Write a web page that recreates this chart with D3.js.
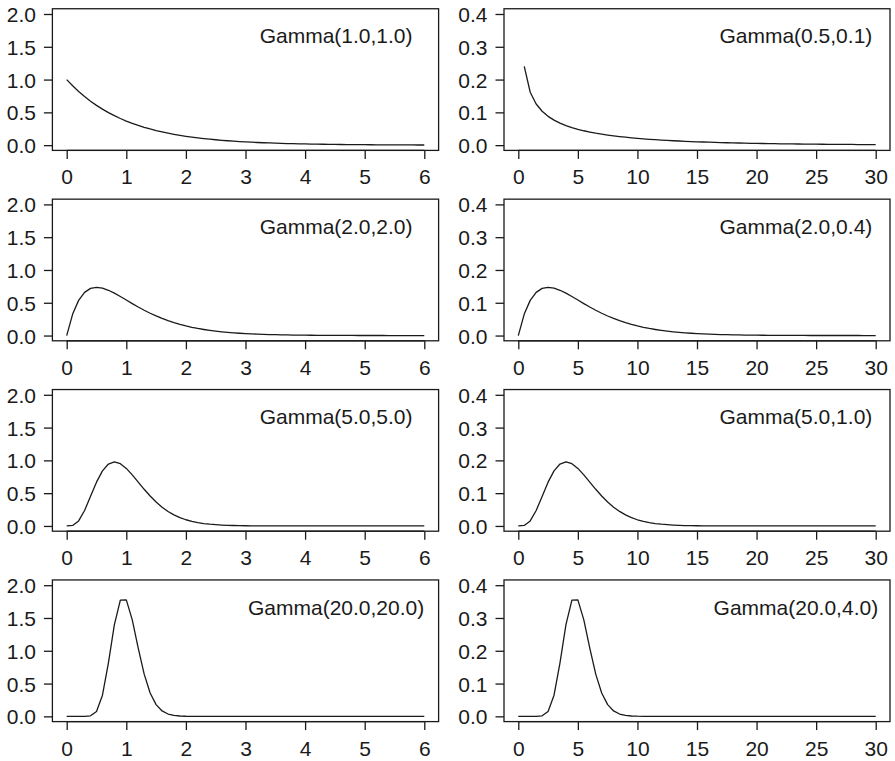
<!DOCTYPE html>
<html>
<head>
<meta charset="utf-8">
<script src="https://cdn.jsdelivr.net/npm/d3@7"></script>
<style>
  html, body { margin: 0; padding: 0; background: #ffffff; }
  svg { display: block; }
  text { font-family: "Liberation Sans", Arial, Helvetica, sans-serif; fill: #1a1a1a; }
</style>
</head>
<body>
<svg id="chart" width="895" height="761"></svg>
<script>
// Evaluation grids: 0..6 by 0.1 (left column) and 0..30 by 0.5 (right column)
const gridShort = [0,0.1,0.2,0.3,0.4,0.5,0.6,0.7,0.8,0.9,1,1.1,1.2,1.3,1.4,1.5,1.6,1.7,1.8,1.9,2,2.1,2.2,2.3,2.4,2.5,2.6,2.7,2.8,2.9,3,3.1,3.2,3.3,3.4,3.5,3.6,3.7,3.8,3.9,4,4.1,4.2,4.3,4.4,4.5,4.6,4.7,4.8,4.9,5,5.1,5.2,5.3,5.4,5.5,5.6,5.7,5.8,5.9,6];
const gridLong = [0,0.5,1,1.5,2,2.5,3,3.5,4,4.5,5,5.5,6,6.5,7,7.5,8,8.5,9,9.5,10,10.5,11,11.5,12,12.5,13,13.5,14,14.5,15,15.5,16,16.5,17,17.5,18,18.5,19,19.5,20,20.5,21,21.5,22,22.5,23,23.5,24,24.5,25,25.5,26,26.5,27,27.5,28,28.5,29,29.5,30];

// Density values on those grids
const densGamma1_1 = [1,0.9048,0.8187,0.7408,0.6703,0.6065,0.5488,0.4966,0.4493,0.4066,
  0.3679,0.3329,0.3012,0.2725,0.2466,0.2231,0.2019,0.1827,0.1653,0.1496,
  0.1353,0.1225,0.1108,0.1003,0.0907,0.0821,0.0743,0.0672,0.0608,0.0550,
  0.0498,0.0450,0.0408,0.0369,0.0334,0.0302,0.0273,0.0247,0.0224,0.0202,
  0.0183,0.0166,0.0150,0.0136,0.0123,0.0111,0.0101,0.0091,0.0082,0.0074,
  0.0067,0.0061,0.0055,0.0050,0.0045,0.0041,0.0037,0.0033,0.0030,0.0027,
  0.0025];
const densGamma05_01 = [null,0.2400,0.1614,0.1254,0.1033,0.0879,0.0763,0.0672,0.0598,0.0536,
  0.0484,0.0439,0.0400,0.0365,0.0335,0.0308,0.0283,0.0262,0.0242,0.0224,
  0.0208,0.0193,0.0179,0.0167,0.0155,0.0145,0.0135,0.0126,0.0118,0.0110,
  0.0103,0.0096,0.0090,0.0084,0.0079,0.0074,0.0070,0.0065,0.0061,0.0057,
  0.0054,0.0051,0.0048,0.0045,0.0042,0.0040,0.0037,0.0035,0.0033,0.0031,
  0.0029,0.0028,0.0026,0.0024,0.0023,0.0022,0.0021,0.0019,0.0018,0.0017,
  0.0016];
const densGamma2_2 = [0,0.3275,0.5363,0.6586,0.7189,0.7358,0.7229,0.6905,0.6461,0.5951,
  0.5413,0.4875,0.4355,0.3863,0.3405,0.2987,0.2609,0.2269,0.1967,0.1700,
  0.1465,0.1261,0.1080,0.0925,0.0790,0.0674,0.0574,0.0488,0.0414,0.0351,
  0.0297,0.0251,0.0213,0.0180,0.0152,0.0128,0.0108,0.0090,0.0076,0.0064,
  0.0054,0.0045,0.0038,0.0032,0.0027,0.0022,0.0019,0.0016,0.0013,0.0011,
  0.0009,0.0008,0.0006,0.0005,0.0004,0.0004,0.0003,0.0003,0.0002,0.0002,
  0.0001];
const densGamma2_04 = [0,0.0655,0.1073,0.1317,0.1438,0.1472,0.1446,0.1381,0.1292,0.1190,
  0.1083,0.0975,0.0871,0.0773,0.0681,0.0597,0.0522,0.0454,0.0393,0.0340,
  0.0293,0.0252,0.0216,0.0185,0.0158,0.0135,0.0115,0.0098,0.0083,0.0070,
  0.0059,0.0050,0.0043,0.0036,0.0030,0.0026,0.0022,0.0018,0.0015,0.0013,
  0.0011,0.0009,0.0008,0.0006,0.0005,0.0004,0.0004,0.0003,0.0003,0.0002,
  0.0002,0.0002,0.0001,0.0001,0.0001,0.0001,0.0001,0.0001,0,0,
  0];
const densGamma5_5 = [0,0.0079,0.0766,0.2353,0.4511,0.6680,0.8402,0.9440,0.9768,0.9490,
  0.8773,0.7791,0.6693,0.5591,0.4561,0.3646,0.2863,0.2213,0.1687,0.1270,
  0.0946,0.0697,0.0509,0.0369,0.0265,0.0190,0.0134,0.0095,0.0067,0.0046,
  0.0032,0.0022,0.0015,0.0011,0.0007,0.0005,0.0003,0.0002,0.0002,0.0001,
  0.0001,0,0,0,0,0,0,0,0,0,
  0,0,0,0,0,0,0,0,0,0,
  0];
const densGamma5_1 = [0,0.0016,0.0153,0.0471,0.0902,0.1336,0.1680,0.1888,0.1954,0.1898,
  0.1755,0.1558,0.1339,0.1118,0.0912,0.0729,0.0573,0.0443,0.0337,0.0254,
  0.0189,0.0139,0.0102,0.0074,0.0053,0.0038,0.0027,0.0019,0.0013,0.0009,
  0.0006,0.0004,0.0003,0.0002,0.0001,0.0001,0.0001,0,0,0,
  0,0,0,0,0,0,0,0,0,0,
  0,0,0,0,0,0,0,0,0,0,
  0];
const densGamma20_20 = [0,0,0,0.0002,0.0079,0.0747,0.3227,0.8170,1.3980,1.7734,
  1.7767,1.4706,1.0396,0.6438,0.3562,0.1788,0.0825,0.0353,0.0142,0.0054,
  0.0019,0.0007,0.0002,0.0001,0,0,0,0,0,0,
  0,0,0,0,0,0,0,0,0,0,
  0,0,0,0,0,0,0,0,0,0,
  0,0,0,0,0,0,0,0,0,0,
  0];
const densGamma20_4 = [0,0,0,0,0.0016,0.0149,0.0645,0.1634,0.2796,0.3547,
  0.3553,0.2941,0.2079,0.1288,0.0712,0.0358,0.0165,0.0071,0.0028,0.0011,
  0.0004,0.0001,0,0,0,0,0,0,0,0,
  0,0,0,0,0,0,0,0,0,0,
  0,0,0,0,0,0,0,0,0,0,
  0,0,0,0,0,0,0,0,0,0,
  0];

// Panel titles, row by row
const titlesLeft = ["Gamma(1.0,1.0)", "Gamma(2.0,2.0)", "Gamma(5.0,5.0)", "Gamma(20.0,20.0)"];
const titlesRight = ["Gamma(0.5,0.1)", "Gamma(2.0,0.4)", "Gamma(5.0,1.0)", "Gamma(20.0,4.0)"];
const seriesLeft = [densGamma1_1, densGamma2_2, densGamma5_5, densGamma20_20];
const seriesRight = [densGamma05_01, densGamma2_04, densGamma5_1, densGamma20_4];

// Axis ticks and their labels
const xTicksLeft = [0, 1, 2, 3, 4, 5, 6];
const xTicksRight = [0, 5, 10, 15, 20, 25, 30];
const yTicksLeft = [0, 0.5, 1, 1.5, 2];
const yTicksRight = [0, 0.1, 0.2, 0.3, 0.4];

// Layout
const rowStep = 190.4;
const boxTop = 8.75, boxBottom = 150.4;
const tickLen = 8.5;
const fontSize = 21;
const ink = "#1a1a1a";

const columns = [
  { grid: gridShort, series: seriesLeft, titles: titlesLeft,
    xDomain: [-0.24, 6.24], xRange: [52.4, 438.6], xTicks: xTicksLeft,
    yDomain: [-0.08, 2.08], yTicks: yTicksLeft, titleX: 4.52, titleY: 1.553 },
  { grid: gridLong, series: seriesRight, titles: titlesRight,
    xDomain: [-1.2, 31.2], xRange: [504.0, 890.0], xTicks: xTicksRight,
    yDomain: [-0.016, 0.416], yTicks: yTicksRight, titleX: 23.3, titleY: 0.3106 }
];

const svg = d3.select("#chart");

columns.forEach(col => {
  col.series.forEach((values, row) => {
    const off = row * rowStep;
    const x = d3.scaleLinear().domain(col.xDomain).range(col.xRange);
    const y = d3.scaleLinear().domain(col.yDomain).range([boxBottom + off, boxTop + off]);
    const g = svg.append("g");

    // x axis (ticks below the frame)
    const xAxis = d3.axisBottom(x)
      .tickValues(col.xTicks)
      .tickFormat(d3.format("d"))
      .tickSize(tickLen).tickSizeOuter(0).tickPadding(9);
    const gx = g.append("g")
      .attr("transform", `translate(0,${boxBottom + off})`)
      .call(xAxis);
    gx.select(".domain").remove();
    gx.selectAll(".tick line").attr("stroke", ink).attr("stroke-width", 1.3);
    gx.selectAll(".tick text")
      .attr("font-size", fontSize).attr("fill", ink)
      .attr("font-family", "Liberation Sans, Arial, sans-serif")
      .attr("dy", null).attr("y", 34).attr("dominant-baseline", "auto");

    // y axis (horizontal labels, one decimal)
    const yAxis = d3.axisLeft(y)
      .tickValues(col.yTicks)
      .tickFormat(d3.format(".1f"))
      .tickSize(tickLen).tickSizeOuter(0).tickPadding(8);
    const gy = g.append("g")
      .attr("transform", `translate(${col.xRange[0]},0)`)
      .call(yAxis);
    gy.select(".domain").remove();
    gy.selectAll(".tick line").attr("stroke", ink).attr("stroke-width", 1.3);
    gy.selectAll(".tick text")
      .attr("font-size", fontSize).attr("fill", ink)
      .attr("font-family", "Liberation Sans, Arial, sans-serif")
      .attr("dy", "0.36em");

    // axis lines spanning first to last tick
    g.append("line")
      .attr("x1", x(col.xTicks[0])).attr("x2", x(col.xTicks[col.xTicks.length - 1]))
      .attr("y1", boxBottom + off).attr("y2", boxBottom + off)
      .attr("stroke", ink).attr("stroke-width", 1.3);

    // frame
    g.append("rect")
      .attr("x", col.xRange[0]).attr("y", boxTop + off)
      .attr("width", col.xRange[1] - col.xRange[0])
      .attr("height", boxBottom - boxTop)
      .attr("fill", "none").attr("stroke", ink).attr("stroke-width", 1.3);

    // density curve
    const pts = col.grid.map((gv, i) => [gv, values[i]]);
    const line = d3.line()
      .defined(d => d[1] !== null)
      .x(d => x(d[0])).y(d => y(d[1]));
    g.append("path")
      .datum(pts)
      .attr("d", line)
      .attr("fill", "none").attr("stroke", ink)
      .attr("stroke-width", 1.3).attr("stroke-linejoin", "round");

    // panel title
    g.append("text")
      .attr("x", x(col.titleX)).attr("y", y(col.titleY))
      .attr("text-anchor", "middle")
      .attr("font-size", fontSize).attr("fill", ink)
      .text(col.titles[row]);
  });
});
</script>
</body>
</html>
